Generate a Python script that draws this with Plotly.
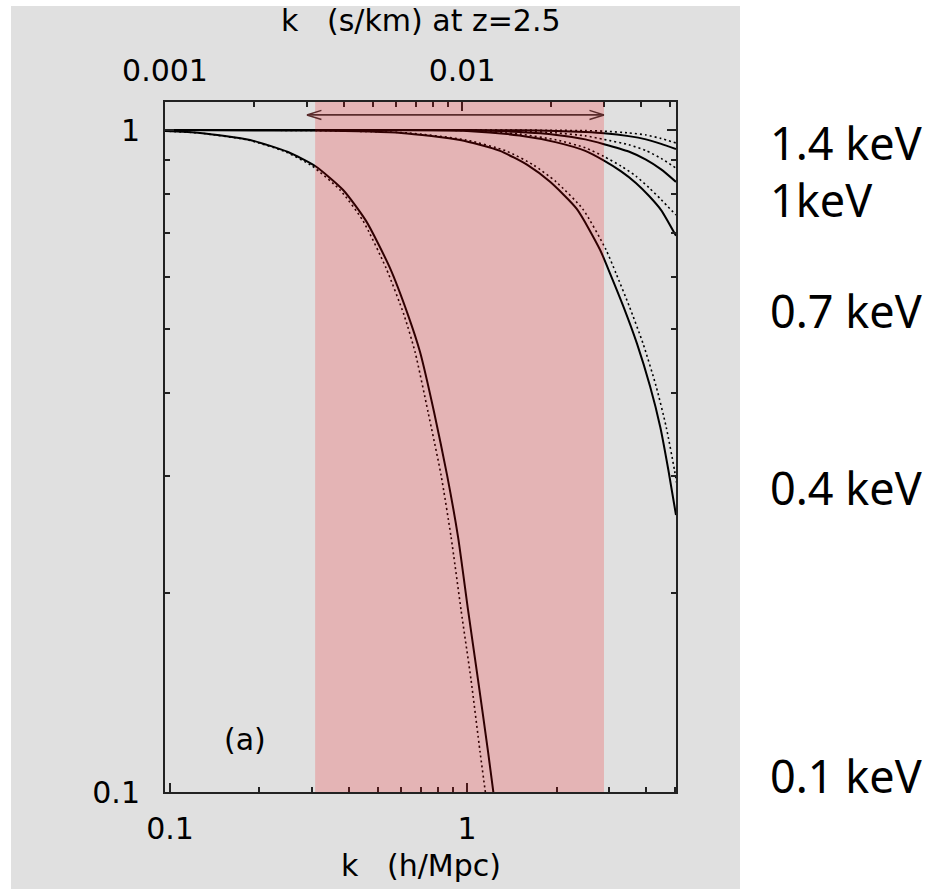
import numpy as np
import plotly.graph_objects as go

# ---------------- data ----------------
# k in h/Mpc, ratio on y
k_01_solid = [0.0962, 0.1262, 0.186, 0.2496, 0.308, 0.3827, 0.457, 0.5504, 0.6329, 0.6946, 0.7741, 0.8564, 0.9326, 1.0078, 1.089, 1.177, 1.2231, 1.252]
r_01_solid = [0.9965, 0.9896, 0.9658, 0.9264, 0.8823, 0.8118, 0.729, 0.6186, 0.5254, 0.462, 0.375, 0.3011, 0.2427, 0.1883, 0.1476, 0.1149, 0.1007, 0.0933]
k_01_dot = [0.0954, 0.1252, 0.1831, 0.2458, 0.3007, 0.3736, 0.4465, 0.5338, 0.6135, 0.6683, 0.739, 0.8174, 0.8834, 0.9545, 1.0315, 1.106, 1.1498, 1.177]
r_01_dot = [0.9965, 0.9896, 0.9658, 0.9264, 0.8823, 0.8118, 0.729, 0.6186, 0.5254, 0.462, 0.375, 0.3011, 0.2427, 0.1883, 0.1476, 0.1149, 0.1007, 0.0933]

k_04_solid = [0.0962, 0.3, 0.6, 0.947, 1.291, 1.6, 1.903, 2.34, 2.80, 3.03, 3.36, 3.73, 4.13, 4.47, 4.76, 5.05]
r_04_solid = [1.0, 0.998, 0.99, 0.966, 0.930, 0.885, 0.835, 0.760, 0.660, 0.607, 0.541, 0.476, 0.410, 0.356, 0.3065, 0.262]
k_04_dot = [0.0962, 0.314, 0.629, 0.992, 1.352, 1.676, 1.994, 2.451, 2.933, 3.174, 3.52, 3.91, 4.33, 4.68, 4.99, 5.29]
r_04_dot = [1.0, 0.998, 0.99, 0.966, 0.930, 0.885, 0.835, 0.760, 0.660, 0.607, 0.541, 0.476, 0.410, 0.356, 0.3065, 0.262]

k_07 = [0.0962, 0.5, 1.0, 1.5, 2.0, 2.5, 2.89, 3.3, 3.7, 4.1, 4.5, 5.05]
r_07_solid = [1.0, 1.0, 0.997, 0.981, 0.958, 0.930, 0.899, 0.866, 0.832, 0.795, 0.757, 0.692]
r_07_dot = [1.0, 1.0, 0.998, 0.986, 0.966, 0.940, 0.912, 0.882, 0.852, 0.818, 0.785, 0.744]

k_hi = [0.0962, 1.0, 1.5, 2.0, 2.5, 2.89, 3.5, 4.0, 4.5, 5.05]
r_10_solid = [1.0, 0.999, 0.993, 0.983, 0.968, 0.952, 0.928, 0.902, 0.872, 0.835]
r_10_dot = [1.0, 1.0, 0.997, 0.990, 0.980, 0.968, 0.950, 0.931, 0.906, 0.876]
r_14_solid = [1.0, 1.0, 0.999, 0.997, 0.993, 0.989, 0.979, 0.968, 0.953, 0.936]
r_14_dot = [1.0, 1.0, 1.0, 0.999, 0.998, 0.996, 0.990, 0.983, 0.971, 0.956]

band_k = [0.308, 2.89]          # shaded k-range (h/Mpc)
arrow_k = [0.289, 2.89]         # double arrow extent
arrow_r = 1.054

mass_labels = ["1.4 keV", "1keV", "0.7 keV", "0.4 keV", "0.1 keV"]
mass_label_y = [143, 199, 310, 487, 775]   # pixel rows of the labels

x_range = [0.0962, 5.05]
y_range = [0.1, 1.1024]
top_range = [0.001, 0.0525]

# ---------------- figure ----------------
W, H = 933, 889
L, R, T, B = 165, 676, 102, 792
pw, ph = R - L, B - T

def px_x(p):
    return (p - L) / pw

def px_y(p):
    return (B - p) / ph

fig = go.Figure()

curves = [
    (k_01_solid, r_01_solid, "solid"), (k_01_dot, r_01_dot, "dot"),
    (k_04_solid, r_04_solid, "solid"), (k_04_dot, r_04_dot, "dot"),
    (k_07, r_07_solid, "solid"), (k_07, r_07_dot, "dot"),
    (k_hi, r_10_solid, "solid"), (k_hi, r_10_dot, "dot"),
    (k_hi, r_14_solid, "solid"), (k_hi, r_14_dot, "dot"),
]
for kk, rr, ds in curves:
    fig.add_trace(go.Scatter(
        x=kk, y=rr, mode="lines",
        line=dict(color="black", width=2 if ds == "solid" else 1.6,
                  dash="solid" if ds == "solid" else "2px,3px", shape="spline", smoothing=0.6),
        showlegend=False, hoverinfo="skip", cliponaxis=True))

# dummy trace for the top axis
fig.add_trace(go.Scatter(x=[None], y=[None], xaxis="x2", yaxis="y", showlegend=False))

font_ax = dict(family="DejaVu Sans, Liberation Sans, Arial", size=30, color="black")
axcol = "#222222"

fig.update_layout(
    width=W, height=H,
    margin=dict(l=L, r=W - R, t=T, b=H - B, pad=0),
    paper_bgcolor="white", plot_bgcolor="rgba(0,0,0,0)",
    font=font_ax,
    xaxis=dict(type="log", range=[np.log10(x_range[0]), np.log10(x_range[1])],
               tickmode="array", tickvals=[0.1, 1], ticktext=["0.1", "1"],
               ticks="inside", ticklen=9, tickwidth=1.5, tickcolor=axcol,
               minor=dict(tickmode="array", tickvals=[0.2, 0.3, 0.4, 0.5, 0.6, 0.7, 0.8, 0.9, 2, 3, 4, 5],
                          ticks="inside", ticklen=5, tickwidth=1.5, tickcolor=axcol, showgrid=False),
               showline=True, linecolor=axcol, linewidth=2, mirror=False,
               showgrid=False, zeroline=False, ticklabelstandoff=9, tickfont=font_ax),
    xaxis2=dict(type="log", overlaying="x", side="top", anchor="y",
                range=[np.log10(top_range[0]), np.log10(top_range[1])],
                tickmode="array", tickvals=[0.001, 0.01], ticktext=["0.001", "0.01"],
                ticks="inside", ticklen=9, tickwidth=1.5, tickcolor=axcol,
                minor=dict(tickmode="array",
                           tickvals=[0.002, 0.003, 0.004, 0.005, 0.006, 0.007, 0.008, 0.009, 0.02, 0.03, 0.04, 0.05],
                           ticks="inside", ticklen=5, tickwidth=1.5, tickcolor=axcol, showgrid=False),
                showline=True, linecolor=axcol, linewidth=2,
                showgrid=False, zeroline=False, ticklabelstandoff=7, tickfont=font_ax),
    yaxis=dict(type="log", range=[np.log10(y_range[0]), np.log10(y_range[1])],
               tickmode="array", tickvals=[0.1, 1], ticktext=["0.1", "1"],
               ticks="inside", ticklen=9, tickwidth=1.5, tickcolor=axcol,
               minor=dict(tickmode="array", tickvals=[0.2, 0.3, 0.4, 0.5, 0.6, 0.7, 0.8, 0.9],
                          ticks="inside", ticklen=5, tickwidth=1.5, tickcolor=axcol, showgrid=False),
               showline=True, linecolor=axcol, linewidth=2, mirror="ticks",
               showgrid=False, zeroline=False, ticklabelstandoff=17, tickfont=font_ax),
)

# gray panel behind the plot
fig.add_shape(type="rect", xref="paper", yref="paper",
              x0=px_x(11), x1=px_x(740), y0=px_y(895), y1=px_y(6),
              fillcolor="#e0e0e0", line=dict(width=0), layer="below")

# translucent red band (drawn over the curves to tint them)
fig.add_shape(type="rect", xref="x", yref="y domain",
              x0=band_k[0], x1=band_k[1], y0=0, y1=1,
              fillcolor="rgba(244,0,5,0.196)", line=dict(width=0), layer="above")

# double arrow
arrow_col = "#5a2c2c"
lx, rx = np.log10(arrow_k[0]), np.log10(arrow_k[1])
ly = np.log10(arrow_r)
fig.add_annotation(x=rx, y=ly, ax=lx, ay=ly, xref="x", yref="y", axref="x", ayref="y",
                   text="", showarrow=True, arrowhead=0, arrowwidth=1.8, arrowcolor=arrow_col)
for tip, sgn in ((lx, 1), (rx, -1)):
    for dy in (-5, 5):
        fig.add_annotation(x=tip, y=ly, xref="x", yref="y", ax=sgn * 16, ay=dy,
                           text="", showarrow=True, arrowhead=0, arrowwidth=1.5,
                           arrowcolor=arrow_col, standoff=0)

# axis titles
fig.add_annotation(x=0.5, y=px_y(20), xref="paper", yref="paper",
                   text="k   (s/km) at z=2.5", showarrow=False, font=font_ax,
                   xanchor="center", yanchor="middle")
fig.add_annotation(x=0.5, y=px_y(866), xref="paper", yref="paper",
                   text="k   (h/Mpc)", showarrow=False, font=font_ax,
                   xanchor="center", yanchor="middle")
fig.add_annotation(x=px_x(245), y=px_y(739), xref="paper", yref="paper",
                   text="(a)", showarrow=False, font=font_ax,
                   xanchor="center", yanchor="middle")

# mass labels on the right
for lab, yy in zip(mass_labels, mass_label_y):
    fig.add_annotation(x=px_x(768), y=px_y(yy), xref="paper", yref="paper",
                       text=lab, showarrow=False,
                       font=dict(family="Noto Sans, Lato, sans-serif", size=45, color="black"),
                       xanchor="left", yanchor="middle")

fig.write_html("out.html")
